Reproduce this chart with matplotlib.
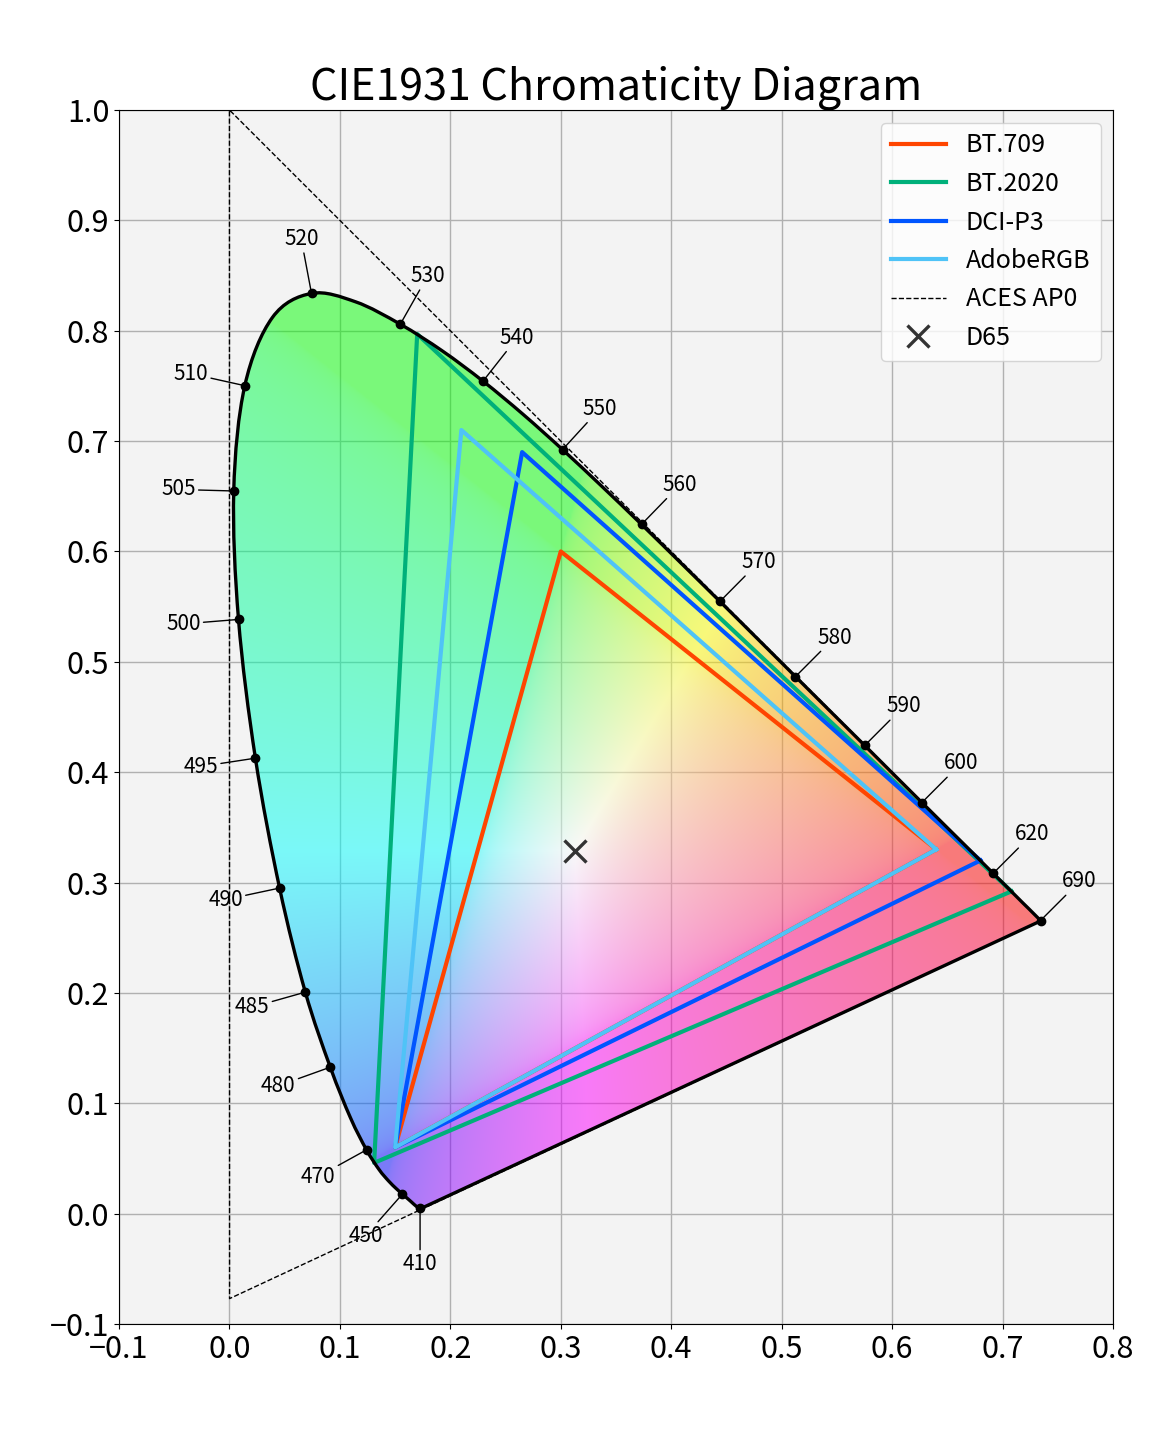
import numpy as np
import matplotlib
matplotlib.use("Agg")
import matplotlib.pyplot as plt
from matplotlib.path import Path
from matplotlib.patches import PathPatch

plt.rcParams['font.family'] = ['Noto Sans CJK JP', 'DejaVu Sans']

# CIE 1931 2° spectral locus, 5 nm steps (380..700 nm)
wavelengths = list(range(380, 705, 5))
locus_x = [0.1741, 0.1740, 0.1738, 0.1736, 0.1733, 0.1730, 0.1726, 0.1721, 0.1714, 0.1703,
           0.1689, 0.1669, 0.1644, 0.1611, 0.1566, 0.1510, 0.1440, 0.1355, 0.1241, 0.1096,
           0.0913, 0.0687, 0.0454, 0.0235, 0.0082, 0.0039, 0.0139, 0.0389, 0.0743, 0.1142,
           0.1547, 0.1929, 0.2296, 0.2658, 0.3016, 0.3373, 0.3731, 0.4087, 0.4441, 0.4788,
           0.5125, 0.5448, 0.5752, 0.6029, 0.6270, 0.6482, 0.6658, 0.6801, 0.6915, 0.7006,
           0.7079, 0.7140, 0.7190, 0.7230, 0.7260, 0.7283, 0.7300, 0.7311, 0.7320, 0.7327,
           0.7334, 0.7340, 0.7344, 0.7346, 0.7347]
locus_y = [0.0050, 0.0050, 0.0049, 0.0049, 0.0048, 0.0048, 0.0048, 0.0048, 0.0051, 0.0058,
           0.0069, 0.0086, 0.0109, 0.0138, 0.0177, 0.0227, 0.0297, 0.0399, 0.0578, 0.0868,
           0.1327, 0.2007, 0.2950, 0.4127, 0.5384, 0.6548, 0.7502, 0.8120, 0.8338, 0.8262,
           0.8059, 0.7816, 0.7543, 0.7243, 0.6923, 0.6589, 0.6245, 0.5896, 0.5547, 0.5202,
           0.4866, 0.4544, 0.4242, 0.3965, 0.3725, 0.3514, 0.3340, 0.3197, 0.3083, 0.2993,
           0.2920, 0.2859, 0.2809, 0.2770, 0.2740, 0.2717, 0.2700, 0.2689, 0.2680, 0.2673,
           0.2666, 0.2660, 0.2656, 0.2654, 0.2653]

labeled_wl = [410, 450, 470, 480, 485, 490, 495, 500, 505, 510, 520, 530, 540,
              550, 560, 570, 580, 590, 600, 620, 690]

# gamuts (R, G, B primaries)
gamut_names = ['BT.709', 'BT.2020', 'DCI-P3', 'AdobeRGB']
gamut_x = [[0.640, 0.300, 0.150], [0.708, 0.170, 0.131], [0.680, 0.265, 0.150], [0.640, 0.210, 0.150]]
gamut_y = [[0.330, 0.600, 0.060], [0.292, 0.797, 0.046], [0.320, 0.690, 0.060], [0.330, 0.710, 0.060]]
gamut_colors = ['#ff4500', '#00b07a', '#0055ff', '#4fc3f7']

aces_x = [0.7347, 0.0, 0.0001]
aces_y = [0.2653, 1.0, -0.0770]

d65 = (0.3127, 0.3290)


def xy_to_rgb(xx, yy):
    # xy (Y=1) -> linear sRGB, normalised and gamma encoded
    yy = np.where(yy <= 1e-4, 1e-4, yy)
    X = xx / yy
    Z = (1 - xx - yy) / yy
    M = np.array([[3.2406, -1.5372, -0.4986],
                  [-0.9689, 1.8758, 0.0415],
                  [0.0557, -0.2040, 1.0570]])
    XYZ = np.stack([X, np.ones_like(X), Z], axis=-1)
    rgb = XYZ @ M.T
    rgb = np.clip(rgb, 0, None)
    rgb = rgb / rgb.max(axis=-1, keepdims=True)
    return rgb ** (1 / 2.2)


def locus_path(xs, ys):
    # smooth outline through the locus points (bezier), closed by the purple line
    p = np.column_stack([xs, ys])
    n = len(p)
    verts = [p[0]]
    codes = [Path.MOVETO]
    for i in range(n - 1):
        a = p[max(i - 1, 0)]
        b = p[min(i + 2, n - 1)]
        c1 = p[i] + (p[i + 1] - a) / 6
        c2 = p[i + 1] - (b - p[i]) / 6
        verts += [c1, c2, p[i + 1]]
        codes += [Path.CURVE4] * 3
    verts += [p[0], p[0]]
    codes += [Path.LINETO, Path.CLOSEPOLY]
    return Path(verts, codes)


fig = plt.figure(figsize=(11.7, 14.3), dpi=100)
ax = fig.add_axes([119 / 1170, 1 - 1324 / 1430, 994 / 1170, 1214 / 1430])
ax.set_facecolor('#f3f3f3')
ax.set_axisbelow(True)
ax.grid(True, color='#b0b0b0', lw=1)

path = locus_path(locus_x, locus_y)

# colour fill inside the locus
gx = np.linspace(-0.1, 0.8, 600)
gy = np.linspace(-0.1, 1.0, 720)
GX, GY = np.meshgrid(gx, gy)
img = xy_to_rgb(GX, GY)
clip = PathPatch(path, facecolor='none', edgecolor='none')
ax.add_patch(clip)
im = ax.imshow(img, extent=(-0.1, 0.8, -0.1, 1.0), origin='lower', alpha=0.5,
               interpolation='bilinear', zorder=1, aspect='auto')
im.set_clip_path(clip)

# gamut triangles
for name, gx_, gy_, c in zip(gamut_names, gamut_x, gamut_y, gamut_colors):
    ax.plot(gx_ + gx_[:1], gy_ + gy_[:1], color=c, lw=3, label=name, zorder=4)

# spectral locus outline
ax.add_patch(PathPatch(path, facecolor='none', edgecolor='black', lw=2.4, zorder=5))

# ACES AP0
ax.plot(aces_x + aces_x[:1], aces_y + aces_y[:1], color='black', lw=1, ls='--',
        label='ACES AP0', zorder=6)

# D65
ax.plot([d65[0]], [d65[1]], ls='none', marker='x', ms=16, mew=2.4, color='#333333',
        label='D65', zorder=7)

# wavelength labels
for wl in labeled_wl:
    i = wavelengths.index(wl)
    px, py = locus_x[i], locus_y[i]
    tx = locus_x[min(i + 1, len(locus_x) - 1)] - locus_x[max(i - 1, 0)]
    ty = locus_y[min(i + 1, len(locus_y) - 1)] - locus_y[max(i - 1, 0)]
    n = np.hypot(tx, ty)
    nx, ny = -ty / n, tx / n
    ax.plot(px, py, 'o', color='black', ms=6, zorder=8)
    ax.annotate(str(wl), xy=(px, py), xytext=(px + 0.05 * nx, py + 0.05 * ny),
                ha='center', va='center', fontsize=15, zorder=8,
                arrowprops=dict(arrowstyle='-', color='black', lw=1, shrinkA=0, shrinkB=0))

ax.set_xlim(-0.1, 0.8)
ax.set_ylim(-0.1, 1.0)
ax.set_xticks(np.arange(-0.1, 0.81, 0.1))
ax.set_yticks(np.arange(-0.1, 1.01, 0.1))
ax.tick_params(labelsize=22)
ax.set_title('CIE1931 Chromaticity Diagram', fontsize=31)
ax.legend(loc='upper right', fontsize=18, handlelength=2.2)

fig.savefig('out.png', dpi=100)
